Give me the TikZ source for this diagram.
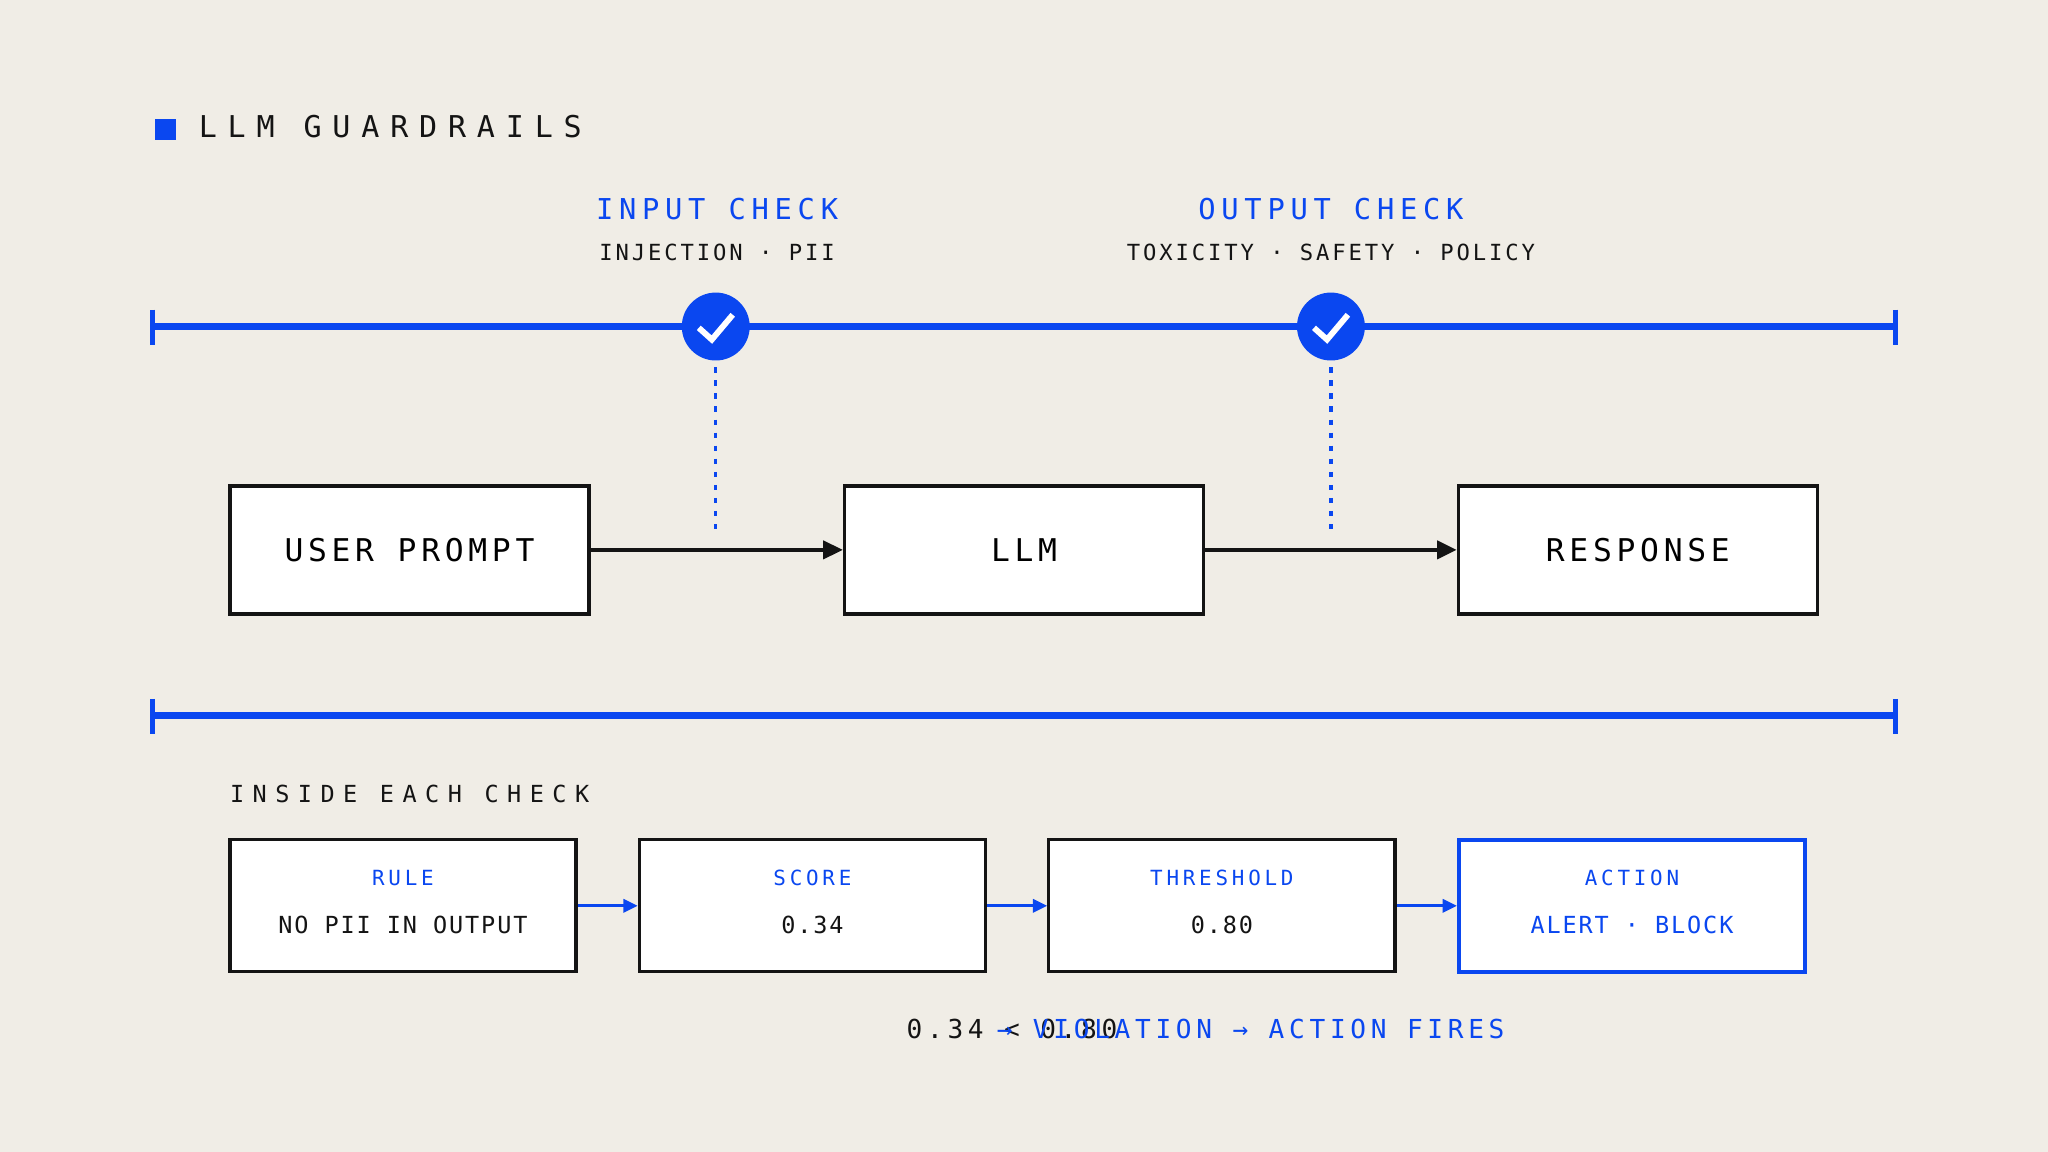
\documentclass[tikz,border=0pt]{standalone}
\usepackage{fontspec}
\setmainfont{DejaVu Sans Mono}
\usetikzlibrary{arrows.meta}
\definecolor{bg}{HTML}{F0EDE6}
\definecolor{blu}{HTML}{0A47F0}
\definecolor{ink}{HTML}{141414}
\newcommand{\tx}[3]{{\fontsize{#1}{#1}\addfontfeature{LetterSpace=#2}\selectfont #3}}
\begin{document}
\begin{tikzpicture}[x=1pt,y=-1pt,
  rail/.style={blu,line width=5pt},
  box/.style={draw=ink,line width=2.5pt,fill=white,minimum width=275pt,minimum height=98pt,inner sep=0pt},
  sbox/.style={draw=ink,line width=2.5pt,fill=white,minimum width=265pt,minimum height=101pt,inner sep=0pt},
  flow/.style={ink,line width=2.5pt,-{Triangle[length=15pt,width=14pt]}},
  sflow/.style={blu,line width=2.5pt,-{Triangle[length=11pt,width=10pt]}},
  chk/.style={circle,fill=blu,minimum size=52pt,inner sep=0pt},
  dots/.style={blu,line width=2.5pt,dash pattern=on 4pt off 6pt}]
\fill[bg] (0,0) rectangle (1568,882);
\useasboundingbox (0,0) rectangle (1568,882);
% title
\fill[blu] (119,91) rectangle (135,107);
\node[anchor=west,ink,inner sep=0pt] (title) at (152,97) {\tx{23}{36}{LLM GUARDRAILS}};
% check labels
\node[blu,inner sep=0pt] (inl) at (549,160) {\tx{22}{20}{INPUT CHECK}};
\node[ink,inner sep=0pt] (ins) at (549,193) {\tx{17}{13}{INJECTION · PII}};
\node[blu,inner sep=0pt] (outl) at (1019,160) {\tx{22}{20}{OUTPUT CHECK}};
\node[ink,inner sep=0pt] (outs) at (1019,193) {\tx{17}{13}{TOXICITY · SAFETY · POLICY}};
% top rail
\coordinate (r1a) at (117,250); \coordinate (r1b) at (1451,250);
\draw[rail] (r1a) -- (r1b);
\draw[blu,line width=4pt] (117,237) -- (117,264);
\draw[blu,line width=4pt] (1451,237) -- (1451,264);
\node[chk] (c1) at (548,250) {};
\node[chk] (c2) at (1019,250) {};
\foreach \c in {c1,c2}{\draw[white,line width=4.5pt] ([shift={(-13,1)}]\c.center) -- ([shift={(-3,10)}]\c.center) -- ([shift={(13,-9)}]\c.center);}
% boxes
\node[box] (up) at (313.5,421) {\tx{24}{15}{USER PROMPT}};
\node[box] (llm) at (784,421) {\tx{24}{15}{LLM}};
\node[box] (resp) at (1254,421) {\tx{24}{15}{RESPONSE}};
\coordinate (d1) at (548,410); \coordinate (d2) at (1019,410);
\draw[dots] (c1.south) ++(0,5) -- (d1);
\draw[dots] (c2.south) ++(0,5) -- (d2);
\draw[flow] (up) -- (llm);
\draw[flow] (llm) -- (resp);
% second rail
\draw[rail] (117,548) -- (1451,548);
\draw[blu,line width=4pt] (117,535) -- (117,562);
\draw[blu,line width=4pt] (1451,535) -- (1451,562);
\node[anchor=west,ink,inner sep=0pt] (inside) at (176,608) {\tx{18}{36}{INSIDE EACH CHECK}};
% bottom boxes
\node[sbox] (rule) at (308.5,693.5) {};
\node[sbox] (score) at (622,693.5) {};
\node[sbox] (thr) at (935.5,693.5) {};
\node[sbox,draw=blu,line width=3pt] (act) at (1249.5,693.5) {};
\node[blu,inner sep=0pt] at (308.5,672) {\tx{16}{18}{RULE}};
\node[ink,inner sep=0pt] at (308.5,708) {\tx{18}{8}{NO PII IN OUTPUT}};
\node[blu,inner sep=0pt] at (622,672) {\tx{16}{18}{SCORE}};
\node[ink,inner sep=0pt] at (622,708) {\tx{18}{8}{0.34}};
\node[blu,inner sep=0pt] at (935.5,672) {\tx{16}{18}{THRESHOLD}};
\node[ink,inner sep=0pt] at (935.5,708) {\tx{18}{8}{0.80}};
\node[blu,inner sep=0pt] at (1249.5,672) {\tx{16}{18}{ACTION}};
\node[blu,inner sep=0pt] at (1249.5,708) {\tx{18}{8}{ALERT · BLOCK}};
\draw[sflow] (rule) -- (score);
\draw[sflow] (score) -- (thr);
\draw[sflow] (thr) -- (act);
% bottom text
\node[anchor=west,ink,inner sep=0pt] (cmp) at (694,788) {\tx{20}{18}{0.34 < 0.80}};
\node[anchor=west,blu,inner sep=0pt] (viol) at (763,788) {\tx{20}{18}{→ VIOLATION → ACTION FIRES}};
\end{tikzpicture}
\end{document}
